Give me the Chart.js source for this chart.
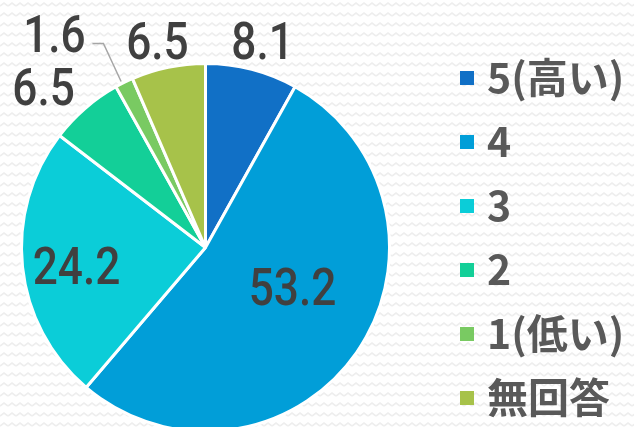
<!DOCTYPE html>
<html>
<head>
<meta charset="utf-8">
<script src="https://cdn.jsdelivr.net/npm/chart.js@4.4.0/dist/chart.umd.min.js"></script>
<style>
  html, body { margin: 0; padding: 0; overflow: hidden; }
  body {
    width: 634px; height: 427px;
    background-color: #ffffff;
    background-image: url("data:image/svg+xml,%3Csvg xmlns='http://www.w3.org/2000/svg' width='8' height='10'%3E%3Cpolyline points='0,6 4,3 8,6' fill='none' stroke='%23eeeeee' stroke-width='1.6'/%3E%3C/svg%3E");
  }
  #wrap { position: relative; width: 634px; height: 434px; }
</style>
</head>
<body>
<div id="wrap"><canvas id="grafico"></canvas></div>
<script>
// dados
const categorias = ['5(高い)', '4', '3', '2', '1(低い)', '無回答'];
const valores = [8.1, 53.2, 24.2, 6.5, 1.6, 6.5];
const rotulos = ['8.1', '53.2', '24.2', '6.5', '1.6', '6.5'];
const cores = ['#1170C6', '#019ED8', '#0BCDD8', '#13CF98', '#79CA62', '#A7C24A'];

// posicao dos rotulos, em raios a partir do centro
const posRotulo = [
  [0.31, -1.12],
  [0.473, 0.212],
  [-0.701, 0.103],
  [-0.880, -0.875],
  [-0.821, -1.163],
  [-0.261, -1.12],
];

const rotulosPlugin = {
  id: 'rotulos',
  afterDatasetsDraw(chart) {
    const ctx = chart.ctx;
    const arcs = chart.getDatasetMeta(0).data;
    ctx.save();
    arcs.forEach((arc, i) => {
      const r = arc.outerRadius;
      const x = arc.x + posRotulo[i][0] * r;
      const y = arc.y + posRotulo[i][1] * r;
      ctx.save();
      ctx.translate(x, y);
      ctx.scale(0.85, 1);
      ctx.font = '500 52px Roboto';
      ctx.fillStyle = '#404040';
      ctx.textAlign = 'center';
      ctx.textBaseline = 'alphabetic';
      ctx.fillText(rotulos[i], 0, 18);
      ctx.restore();
    });

    // linha guia do 1.6
    const a = arcs[4];
    const meio = (a.startAngle + a.endAngle) / 2;
    const ex = a.x + Math.cos(meio) * a.outerRadius;
    const ey = a.y + Math.sin(meio) * a.outerRadius;
    const lx = a.x + posRotulo[4][0] * a.outerRadius + 38;
    const ly = a.y + posRotulo[4][1] * a.outerRadius + 10;
    ctx.strokeStyle = '#a6a6a6';
    ctx.lineWidth = 1.5;
    ctx.beginPath();
    ctx.moveTo(lx, ly);
    ctx.lineTo(lx + 11, ly);
    ctx.lineTo(ex - 3, ey - 1);
    ctx.stroke();
    ctx.restore();
  }
};

const legendaPlugin = {
  id: 'legenda',
  afterDraw(chart) {
    const ctx = chart.ctx;
    const labels = chart.data.labels;
    const bg = chart.data.datasets[0].backgroundColor;
    ctx.save();
    labels.forEach((txt, i) => {
      const y = 93 + i * 64;
      ctx.fillStyle = bg[i];
      ctx.fillRect(460, y - 22, 14, 14);
      ctx.fillStyle = '#595959';
      ctx.font = 'bold 41px "Noto Sans CJK JP"';
      ctx.textAlign = 'left';
      ctx.textBaseline = 'alphabetic';
      ctx.fillText(txt, 487, y);
    });
    ctx.restore();
  }
};

const config = {
  type: 'pie',
  data: {
    labels: categorias,
    datasets: [{
      data: valores,
      backgroundColor: cores,
      borderColor: '#ffffff',
      borderWidth: 3,
    }]
  },
  options: {
    responsive: false,
    animation: false,
    layout: { padding: { left: 20, top: 62, right: 243, bottom: 1 } },
    plugins: {
      legend: { display: false },
      tooltip: { enabled: false },
    }
  },
  plugins: [rotulosPlugin, legendaPlugin]
};

const canvas = document.getElementById('grafico');
canvas.width = 634;
canvas.height = 434;
const grafico = new Chart(canvas, config);
</script>
</body>
</html>
